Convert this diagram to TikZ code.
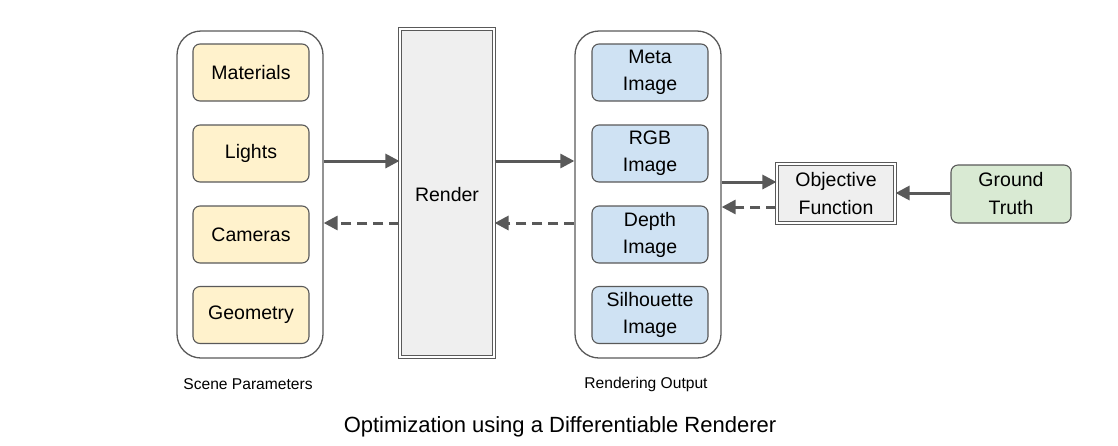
\documentclass[tikz,border=0pt]{standalone}
\usepackage{fontspec}
\setmainfont{Liberation Sans}
\usetikzlibrary{arrows.meta}
\definecolor{bordc}{HTML}{595959}
\definecolor{yelf}{HTML}{FFF2CC}
\definecolor{bluf}{HTML}{CFE2F3}
\definecolor{grnf}{HTML}{D9EAD3}
\definecolor{gryf}{HTML}{EFEFEF}
\definecolor{arrc}{HTML}{595959}
\begin{document}
\begin{tikzpicture}[x=1pt,y=-1pt,
  container/.style={draw=bordc,line width=1.3pt,rounded corners=24pt,minimum width=146pt,minimum height=327pt,inner sep=0pt},
  itembox/.style={draw=bordc,line width=1.1pt,rounded corners=7pt,minimum width=116pt,minimum height=57pt,inner sep=0pt,align=center,font=\fontsize{19.5}{27}\selectfont},
  yelbox/.style={itembox,fill=yelf},
  blubox/.style={itembox,fill=bluf},
  dblbox/.style={draw=bordc,line width=1.1pt,double=white,double distance=2.5pt,fill=gryf,inner sep=0pt,align=center,font=\fontsize{19.5}{28}\selectfont},
  solidarr/.style={draw=arrc,line width=3pt,-{Triangle[length=14pt,width=14pt]}},
  dasharr/.style={solidarr,dash pattern=on 10pt off 6pt},
  caption/.style={font=\fontsize{15.6}{18}\selectfont}
]
\useasboundingbox (0,0) rectangle (1118,445);
% containers
\node[container] (scene) at (250,194.5) {};
\node[container] (out) at (648,194.5) {};
% scene items
\node[yelbox] (mat) at (251,72.5) {Materials};
\node[yelbox] (lig) at (251,153.5) {Lights};
\node[yelbox] (cam) at (251,234.5) {Cameras};
\node[yelbox] (geo) at (251,315) {Geometry};
% output items
\node[blubox] (meta) at (650,72.5) {Meta\\Image};
\node[blubox] (rgb) at (650,153.5) {RGB\\Image};
\node[blubox] (dep) at (650,234.5) {Depth\\Image};
\node[blubox] (sil) at (650,315) {Silhouette\\Image};
% render
\node[dblbox,minimum width=94pt,minimum height=328pt] (ren) at (447,193) {};
\node[font=\fontsize{19.5}{24}\selectfont] (rentxt) at (447,195) {Render};
% objective
\node[dblbox,minimum width=118pt,minimum height=59pt] (obj) at (836,193.5) {Objective\\Function};
% ground truth
\node[draw=bordc,line width=1.1pt,rounded corners=7pt,fill=grnf,minimum width=120pt,minimum height=58pt,inner sep=0pt,align=center,font=\fontsize{19.5}{28}\selectfont] (gt) at (1011,194) {Ground\\Truth};
% arrows
\draw[solidarr] (scene.east |- 0,161) -- (ren.west |- 0,161);
\draw[dasharr] (ren.west |- 0,223) -- (scene.east |- 0,223);
\draw[solidarr] (ren.east |- 0,161) -- (out.west |- 0,161);
\draw[dasharr] (out.west |- 0,223) -- (ren.east |- 0,223);
\draw[solidarr] (out.east |- 0,182) -- (obj.west |- 0,182);
\draw[dasharr] (obj.west |- 0,207) -- (out.east |- 0,207);
\draw[solidarr] (gt.west |- 0,193) -- (obj.east |- 0,193);
% captions
\node[caption] (scap) at (248,384) {Scene Parameters};
\node[caption] (ocap) at (646,384) {Rendering Output};
\node[font=\fontsize{22}{26}\selectfont] (title) at (560,427) {Optimization using a Differentiable Renderer};
\end{tikzpicture}
\end{document}
